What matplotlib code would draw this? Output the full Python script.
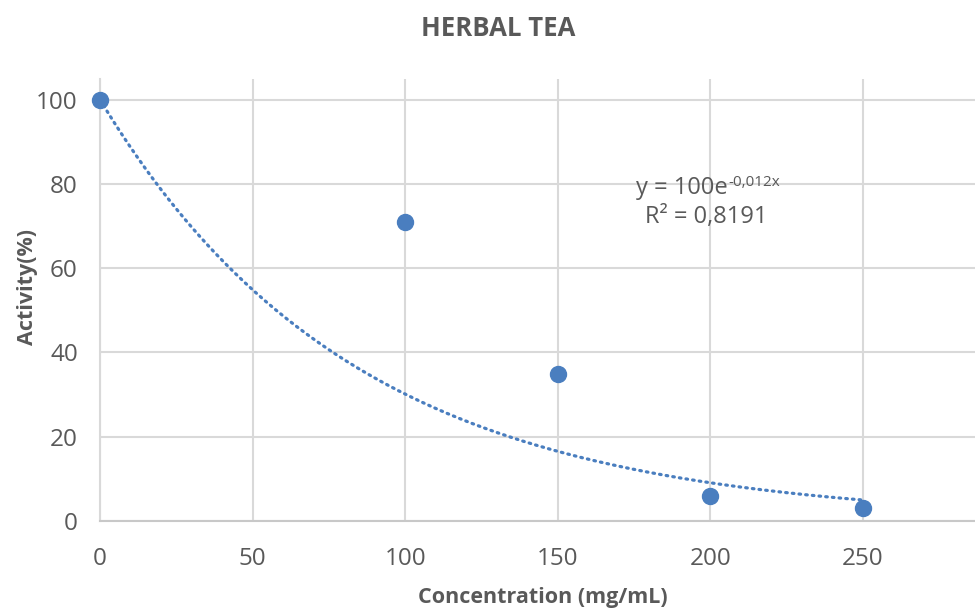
import numpy as np
import matplotlib
matplotlib.use("Agg")
import matplotlib.pyplot as plt

concentration = [0, 100, 150, 200, 250]
activity = [100, 71, 35, 6, 3]
trend_a = 100.0
trend_b = -0.012
x_ticks = [0, 50, 100, 150, 200, 250]
y_ticks = [0, 20, 40, 60, 80, 100]

plt.rcParams['font.family'] = ['Open Sans', 'DejaVu Sans']

text_c = '#595959'
grid_c = '#d9d9d9'
pt_c = '#4a7ebf'

fig = plt.figure(figsize=(9.75, 6.12), dpi=100)
ax = fig.add_axes([100/975, 1-521/612, 875/975, (521-79)/612])

ax.set_xlim(0, 286.7)
ax.set_ylim(0, 104.9)
ax.set_xticks(x_ticks)
ax.set_yticks(y_ticks)
ax.grid(True, color=grid_c, linewidth=1.5)
ax.set_axisbelow(True)
for s in ['top', 'right']:
    ax.spines[s].set_visible(False)
ax.spines['left'].set_color(grid_c)
ax.spines['left'].set_linewidth(1.5)
ax.spines['bottom'].set_color('#c8c8c8')
ax.spines['bottom'].set_linewidth(1.5)
ax.tick_params(length=0, labelsize=17.5, colors=text_c)
ax.tick_params(axis='x', pad=19)
ax.tick_params(axis='y', pad=16)

xs = np.linspace(0, 250, 300)
ax.plot(xs, trend_a*np.exp(trend_b*xs), linestyle=(0, (0.5, 1.6)), color=pt_c,
        linewidth=2.3, dash_capstyle='round', zorder=2)
ax.plot(concentration, activity, 'o', color=pt_c, markersize=11.5, zorder=3, clip_on=False)

fig.text(636/975, 1-188/612, 'y = 100e', fontsize=17, color=text_c, ha='left', va='center')
fig.text(728/975, 1-182/612, '-0,012x', fontsize=11, color=text_c, ha='left', va='center')
fig.text(706/975, 1-217/612, 'R² = 0,8191', fontsize=17, color=text_c, ha='center', va='center')

fig.text(498/975, 1-28/612, 'HERBAL TEA', fontsize=18.5, fontweight='bold', color=text_c,
         ha='center', va='center')
fig.text(543/975, 1-598/612, 'Concentration (mg/mL)', fontsize=15.5, fontweight='bold',
         color=text_c, ha='center', va='center')
fig.text(27/975, 1-287/612, 'Activity(%)', fontsize=15.5, fontweight='bold', color=text_c,
         ha='center', va='center', rotation=90)

fig.savefig('out.png', dpi=100)
